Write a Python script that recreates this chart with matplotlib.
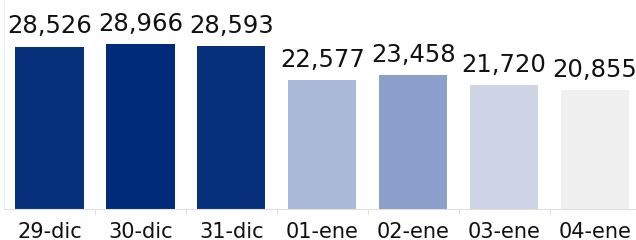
#Bar_chart_daily_totals

#Importing_Library
import numpy as np
import matplotlib.pyplot as plt

#Data
fechas = ['29-dic', '30-dic', '31-dic', '01-ene', '02-ene', '03-ene', '04-ene']
valores = [28526, 28966, 28593, 22577, 23458, 21720, 20855]
colores = ['#07307C', '#002A7A', '#07307C', '#ABB9D9', '#8A9FC9', '#CDD4E6', '#F0F0F0']

#Figure
fig = plt.figure(figsize=(6.36, 2.4), dpi=100)
ax = fig.add_axes([4/636, 31/240, 632/636, 209/240])

x = np.arange(len(fechas))
bars = ax.bar(x, valores, width=0.75, color=colores)

for xi, v in zip(x, valores):
    ax.annotate(f'{v:,}', (xi, v), xytext=(0, 6), textcoords='offset points',
                ha='center', va='bottom', fontsize=17.5, color='#111111')

ax.set_xlim(-0.5, 6.45)
ax.set_ylim(0, 36700)
ax.set_xticks(x)
ax.set_xticklabels(fechas, fontsize=15, color='#111111')
ax.tick_params(axis='x', length=0, pad=9)
ax.set_yticks([])

#Separators between categories
for s in np.arange(0.5, 6.5, 1):
    ax.plot([s, s], [0, -900], color='#e0e0e0', lw=0.8, clip_on=False)

for side in ['top', 'right']:
    ax.spines[side].set_visible(False)
ax.spines['left'].set_color('#eeeeee')
ax.spines['bottom'].set_color('#e0e0e0')
ax.spines['bottom'].set_linewidth(0.8)

plt.savefig('out.png', dpi=100)
